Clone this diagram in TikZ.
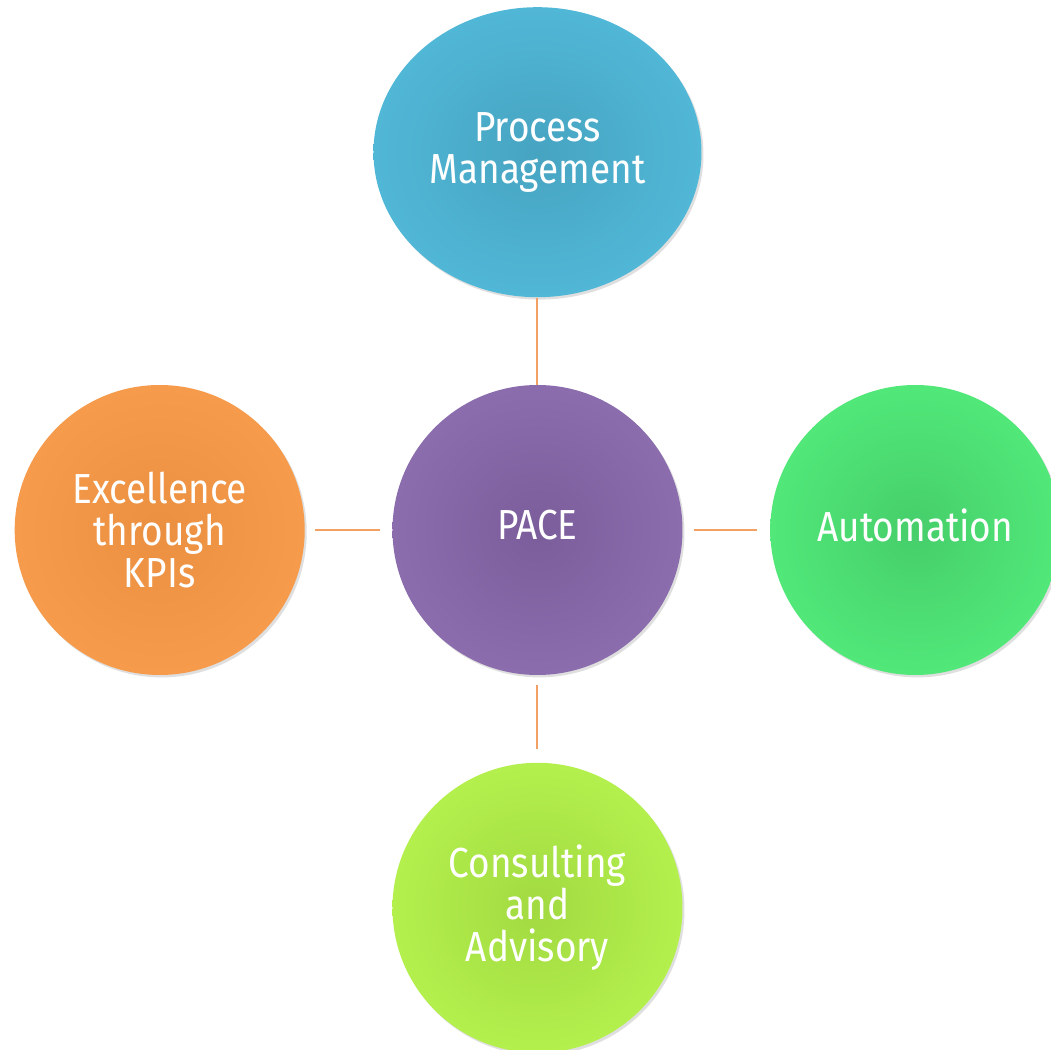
\documentclass[tikz,border=0pt]{standalone}
\usepackage{fontspec}
\setmainfont{Fira Sans}[FakeStretch=0.88]
\usetikzlibrary{positioning, shapes.geometric, shadows}
\definecolor{paceinner}{HTML}{7B5D9B}
\definecolor{paceouter}{HTML}{8B6DAE}
\definecolor{procinner}{HTML}{46A4C1}
\definecolor{procouter}{HTML}{51B7D7}
\definecolor{kpiinner}{HTML}{EB8F41}
\definecolor{kpiouter}{HTML}{F69B4B}
\definecolor{autoinner}{HTML}{46CE6A}
\definecolor{autoouter}{HTML}{51E879}
\definecolor{consinner}{HTML}{A2DA41}
\definecolor{consouter}{HTML}{B3F04D}
\definecolor{linkorange}{HTML}{F2A063}
\tikzset{
  bubble/.style={
    circle, minimum size=145pt, inner sep=0pt, align=center, text=white,
    font=\fontsize{21}{21}\selectfont,
    drop shadow={opacity=0.25, shadow xshift=1pt, shadow yshift=-1.2pt}
  },
  oneline/.style={text depth=5pt},
  link/.style={draw=linkorange, line width=1pt},
  node distance=43.5pt
}

\begin{document}
\begin{tikzpicture}
    \useasboundingbox[fill=white] (-268.75pt,-260pt) rectangle (256.75pt,265pt);

    \node[bubble, oneline, inner color=paceinner, outer color=paceouter] (pace) at (0,0) {PACE};
    \node[bubble, ellipse, minimum width=164pt, minimum height=145pt,
          inner color=procinner, outer color=procouter, above = of pace] (proc) {Process\\Management};
    \node[bubble, inner color=kpiinner, outer color=kpiouter, left = of pace] (kpi) {Excellence\\through\\KPIs};
    \node[bubble, oneline, inner color=autoinner, outer color=autoouter, right = of pace] (auto) {Automation};
    \node[bubble, inner color=consinner, outer color=consouter, below = of pace] (cons) {Consulting\\and\\Advisory};

    \draw[link] (proc) -- (pace);
    \draw[link, shorten <=5pt, shorten >=6pt] (kpi) -- (pace);
    \draw[link, shorten <=5.5pt, shorten >=6.5pt] (pace) -- (auto);
    \draw[link, shorten <=5pt, shorten >=6.5pt] (pace) -- (cons);
\end{tikzpicture}
\end{document}
